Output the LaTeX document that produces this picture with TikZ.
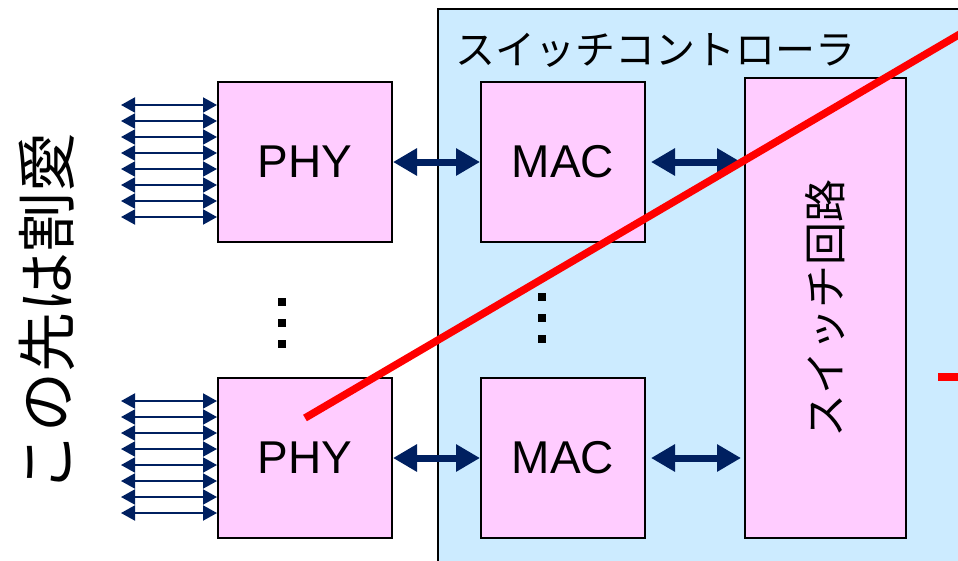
\documentclass[tikz,border=0pt]{standalone}
\usepackage{fontspec}
\setmainfont{Liberation Sans}
\newfontfamily\jpfont{Noto Sans CJK JP}
\usetikzlibrary{arrows.meta,calc}
\definecolor{ctrlblue}{HTML}{CCEBFF}
\definecolor{boxpink}{HTML}{FFCCFF}
\definecolor{linknavy}{HTML}{002060}
\tikzset{
  unitbox/.style={draw,line width=2pt,fill=boxpink,font=\fontsize{46}{46}\selectfont},
  biglink/.style={linknavy,line width=7pt,{Triangle[length=24pt,width=26pt]}-{Triangle[length=24pt,width=26pt]}},
  pinlink/.style={linknavy,line width=2pt,{Triangle[length=14pt,width=15pt]}-{Triangle[length=14pt,width=15pt]}},
  cutline/.style={red,line width=7.5pt}
}
\begin{document}
\begin{tikzpicture}[x=1pt,y=-1pt]
  \useasboundingbox (0,0) rectangle (958,560);
  \clip (0,0) rectangle (958,560);
  % controller frame
  \draw[line width=2pt,fill=ctrlblue] (438,9) rectangle (990,590);
  \node[anchor=west,font=\jpfont\fontsize{40}{40}\selectfont] (ctrltitle) at (452,50) {スイッチコントローラ};
  % blocks
  \node[unitbox,minimum width=174pt,minimum height=160pt] (phyA) at (305,162) {PHY};
  \node[unitbox,minimum width=174pt,minimum height=160pt] (phyB) at (305,458) {PHY};
  \node[unitbox,minimum width=164pt,minimum height=160pt] (macA) at (563,162) {MAC};
  \node[unitbox,minimum width=164pt,minimum height=160pt] (macB) at (563,458) {MAC};
  \node[unitbox,minimum width=161pt,minimum height=460pt] (sw) at (825.5,308) {};
  \node[rotate=90,font=\jpfont\fontsize{43}{43}\selectfont] (swlabel) at (sw.center) {スイッチ回路};
  % links
  \draw[biglink] (phyA.east) -- (macA.west);
  \draw[biglink] (phyB.east) -- (macB.west);
  \draw[biglink,shorten <=5pt,shorten >=3pt] (macA.east) -- (macA.east -| sw.west);
  \draw[biglink,shorten <=5pt,shorten >=3pt] (macB.east) -- (macB.east -| sw.west);
  \foreach \i in {0,...,7} {
    \draw[pinlink] ($(phyA.north west)+(-96,24+16*\i)$) -- ($(phyA.north west)+(0,24+16*\i)$);
    \draw[pinlink] ($(phyB.north west)+(-96,24+16*\i)$) -- ($(phyB.north west)+(0,24+16*\i)$);
  }
  % dots
  \foreach \d in {0,1,2} {
    \fill (278,298+21*\d) rectangle ++(8,8);
    \fill (538,293+21*\d) rectangle ++(8,8);
  }
  % cut mark
  \draw[cutline] (305,418) -- (960,34);
  \draw[cutline] (938,377) -- (960,377);
  \node[rotate=90,font=\jpfont\fontsize{60}{60}\selectfont] (cutnote) at (47,312) {この先は割愛};
\end{tikzpicture}
\end{document}
